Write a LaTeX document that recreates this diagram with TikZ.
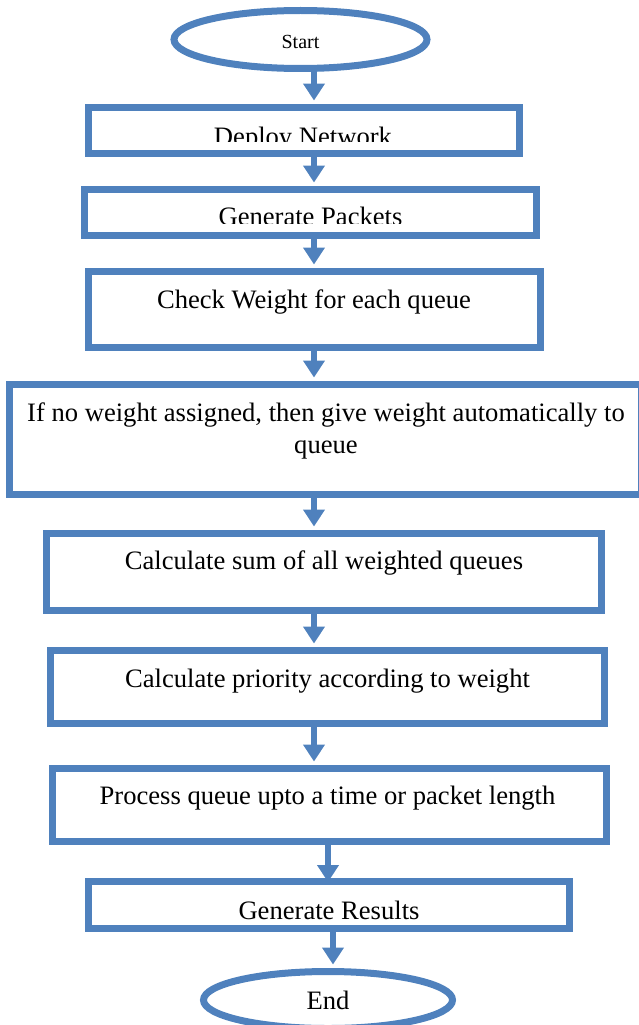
\documentclass[tikz,border=0pt]{standalone}
\usepackage{fontspec}
\setmainfont{Liberation Serif}
\usetikzlibrary{arrows.meta,shapes.geometric}
\definecolor{fcblue}{HTML}{4F81BD}
\tikzset{
  box/.style={draw=fcblue, line width=7pt, rectangle, inner sep=0pt},
  oval/.style={draw=fcblue, line width=7pt, ellipse, inner sep=0pt},
  txt/.style={font=\fontsize{26.6}{32}\selectfont, inner sep=0pt, align=center},
  smalltxt/.style={font=\fontsize{20}{24}\selectfont},
  arr/.style={draw=fcblue, line width=6pt, -{Triangle[width=21pt,length=17pt]}, shorten >=3.5pt},
}
\begin{document}
\begin{tikzpicture}[x=1pt,y=-1pt]
\useasboundingbox (0,0) rectangle (639,1025);
% axis coordinates for the connectors
\coordinate (ax) at (314,0);
\coordinate (bx) at (328,0);
\coordinate (cx) at (333,0);

% nodes
\node[oval, minimum width=253pt, minimum height=58pt] (start) at (300.5,39.5) {};
\node[smalltxt] (startt) at (300.5,42) {Start};

\node[box, minimum width=431.5pt, minimum height=46pt] (deploy) at (303.75,130.5) {};
\begin{scope}
  \clip (92,100) rectangle (516,141.5);
  \node[txt, anchor=base] (deployt) at (303,145) {Deploy Network};
\end{scope}

\node[box, minimum width=452pt, minimum height=46pt] (packets) at (310.5,212.5) {};
\begin{scope}
  \clip (88,195) rectangle (533,223);
  \node[txt, anchor=base] (packetst) at (310.5,225) {Generate Packets};
\end{scope}

\node[box, minimum width=452pt, minimum height=76pt] (check) at (314,309.5) {};
\node[txt] (checkt) at (314,302) {Check Weight for each queue};

\node[box, minimum width=632pt, minimum height=110pt] (assign) at (325,439.5) {};
\node[txt] (assignt) at (326,431) {If no weight assigned, then give weight automatically to\\queue};

\node[box, minimum width=554.5pt, minimum height=77pt] (sum) at (324,572) {};
\node[txt] (sumt) at (324,563) {Calculate sum of all weighted queues};

\node[box, minimum width=554pt, minimum height=73pt] (prio) at (327.5,687) {};
\node[txt] (priot) at (327.5,681) {Calculate priority according to weight};

\node[box, minimum width=554pt, minimum height=73pt] (proc) at (329.5,805) {};
\node[txt] (proct) at (327.5,798) {Process queue upto a time or packet length};

\node[box, minimum width=481pt, minimum height=47pt] (results) at (329,905) {};
\node[txt] (resultst) at (329,910) {Generate Results};

\node[oval, minimum width=249pt, minimum height=57pt, txt] (end) at (328,1000) {End};

% connectors
\draw[arr] (start.south -| ax) -- (deploy.north -| ax);
\draw[arr] (deploy.south -| ax) -- (packets.north -| ax);
\draw[arr] (packets.south -| ax) -- (check.north -| ax);
\draw[arr] (check.south -| ax) -- (assign.north -| ax);
\draw[arr] (assign.south -| ax) -- (sum.north -| ax);
\draw[arr] (sum.south -| ax) -- (prio.north -| ax);
\draw[arr] (prio.south -| ax) -- (proc.north -| ax);
\draw[arr, shorten >=-4pt] (proc.south -| bx) -- (results.north -| bx);
\draw[arr] (results.south -| cx) -- (end.north -| cx);
\end{tikzpicture}
\end{document}
